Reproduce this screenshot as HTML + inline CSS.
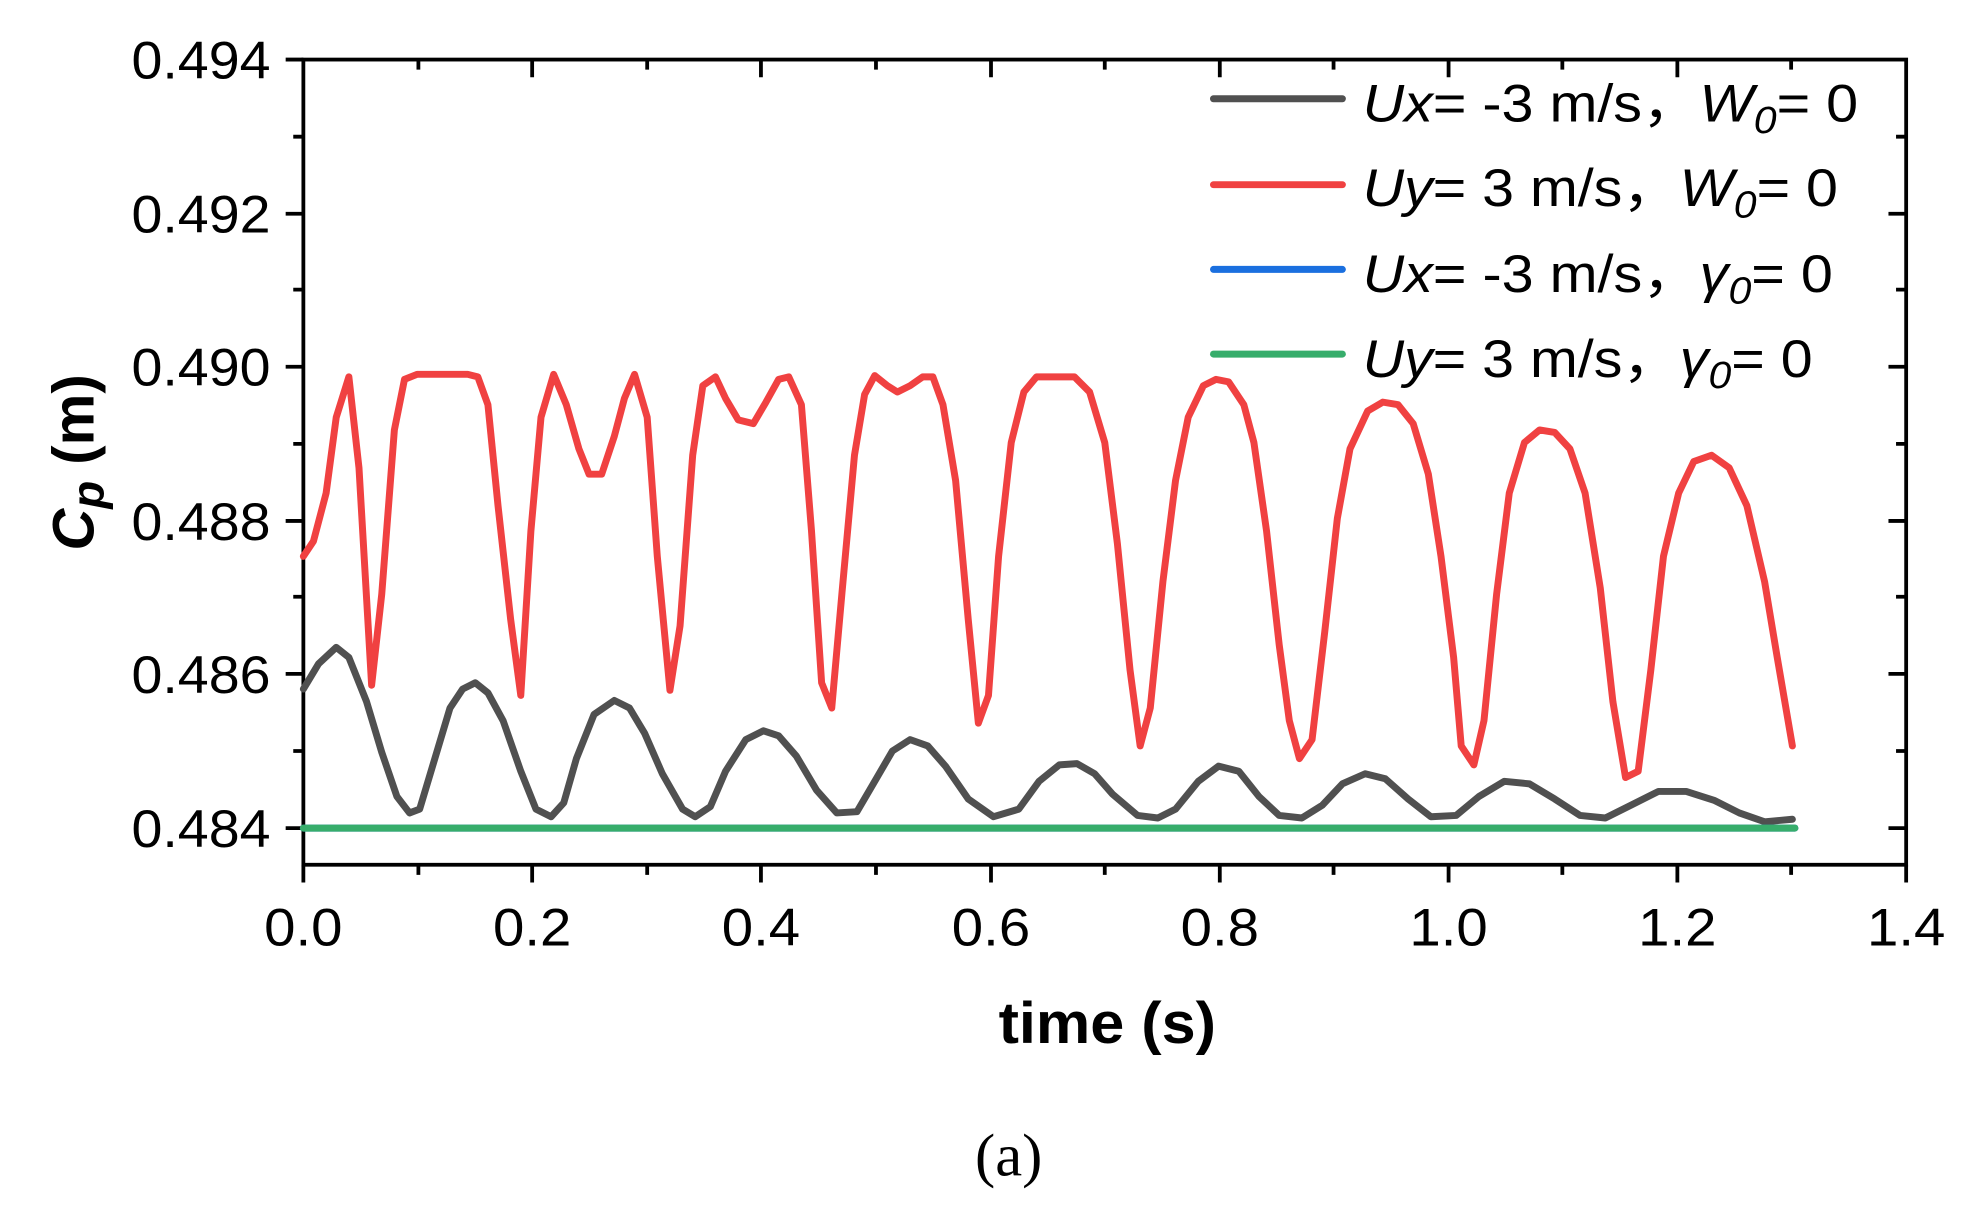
<!DOCTYPE html>
<html><head><meta charset="utf-8"><style>html,body{margin:0;padding:0;background:#fff}svg{display:block}</style></head>
<body>
<svg width="1982" height="1210" viewBox="0 0 1568 957" xmlns="http://www.w3.org/2000/svg" font-family="Liberation Sans, Arial, sans-serif">
<rect width="1568" height="957" fill="#fff"/>
<g stroke="#000" stroke-width="3" fill="none">
<rect x="240" y="47" width="1268" height="637"/>
<path d="M240 684v14M421 684v14M602 684v14M784 684v14M965 684v14M1146 684v14M1327 684v14M1508 684v14"/>
<path d="M331 684v8M512 684v8M693 684v8M874 684v8M1055 684v8M1236 684v8M1417 684v8"/>
<path d="M421 47v14M602 47v14M784 47v14M965 47v14M1146 47v14M1327 47v14"/>
<path d="M331 47v8M512 47v8M693 47v8M874 47v8M1055 47v8M1236 47v8M1417 47v8"/>
<path d="M240 47h-14M240 169h-14M240 290h-14M240 412h-14M240 533h-14M240 655h-14"/>
<path d="M240 108h-8M240 229h-8M240 351h-8M240 472h-8M240 594h-8"/>
<path d="M1508 169h-14M1508 290h-14M1508 412h-14M1508 533h-14M1508 655h-14"/>
<path d="M1508 108h-8M1508 229h-8M1508 351h-8M1508 472h-8M1508 594h-8"/>
</g>
<g font-size="42" fill="#000" text-anchor="end">
<text x="214" y="62" textLength="110" lengthAdjust="spacingAndGlyphs">0.494</text>
<text x="214" y="184" textLength="110" lengthAdjust="spacingAndGlyphs">0.492</text>
<text x="214" y="305" textLength="110" lengthAdjust="spacingAndGlyphs">0.490</text>
<text x="214" y="427" textLength="110" lengthAdjust="spacingAndGlyphs">0.488</text>
<text x="214" y="548" textLength="110" lengthAdjust="spacingAndGlyphs">0.486</text>
<text x="214" y="670" textLength="110" lengthAdjust="spacingAndGlyphs">0.484</text>
</g>
<g font-size="42" fill="#000">
<text x="209" y="748" textLength="62" lengthAdjust="spacingAndGlyphs">0.0</text>
<text x="390" y="748" textLength="62" lengthAdjust="spacingAndGlyphs">0.2</text>
<text x="571" y="748" textLength="62" lengthAdjust="spacingAndGlyphs">0.4</text>
<text x="753" y="748" textLength="62" lengthAdjust="spacingAndGlyphs">0.6</text>
<text x="934" y="748" textLength="62" lengthAdjust="spacingAndGlyphs">0.8</text>
<text x="1115" y="748" textLength="62" lengthAdjust="spacingAndGlyphs">1.0</text>
<text x="1296" y="748" textLength="62" lengthAdjust="spacingAndGlyphs">1.2</text>
<text x="1477" y="748" textLength="62" lengthAdjust="spacingAndGlyphs">1.4</text>
</g>
<text x="790" y="825" font-size="46" font-weight="bold" textLength="172" lengthAdjust="spacingAndGlyphs">time (s)</text>
<text x="798" y="930" font-size="48" font-family="Liberation Serif, serif" text-anchor="middle">(a)</text>
<text transform="translate(74,296) rotate(-90)" font-size="46" font-weight="bold" text-anchor="end"><tspan font-style="italic">C</tspan><tspan font-style="italic" font-size="36" dy="8">p</tspan><tspan dy="-8"> (m)</tspan></text>
<g fill="none" stroke-width="5.5" stroke-linejoin="round" stroke-linecap="round">
<polyline stroke="#f04141" points="240,440 248,428 258,390 266,330 276,298 284,370 294,542 302,470 312,340 320,300 330,296 370,296 378,298 386,320 394,400 404,490 412,550 420,420 428,330 438,296 448,320 458,355 466,375 476,375 486,345 494,315 502,296 512,330 520,440 530,546 538,495 548,360 556,305 566,298 574,315 584,332 596,335 606,318 616,300 624,298 634,320 642,420 650,540 658,560 666,470 676,360 684,312 692,297 702,305 710,310 720,305 730,298 738,298 746,320 756,380 766,490 774,572 782,550 790,440 800,350 810,310 820,298 850,298 862,310 874,350 884,430 894,530 902,590 910,560 920,460 930,380 940,330 952,305 962,300 972,302 984,320 992,350 1002,420 1012,510 1020,570 1028,600 1038,585 1048,500 1058,410 1068,355 1082,325 1094,318 1106,320 1118,335 1130,375 1140,440 1150,520 1156,590 1166,605 1174,570 1184,470 1194,390 1206,350 1218,340 1230,342 1242,355 1254,390 1266,465 1276,555 1286,615 1296,610 1306,530 1316,440 1328,390 1340,365 1354,360 1368,370 1382,400 1396,460 1406,520 1418,590"/>
<polyline stroke="#505050" points="240,545 252,525 266,512 276,520 290,555 302,595 314,630 324,643 332,640 344,600 356,560 366,545 376,540 386,548 398,570 412,610 424,640 436,646 446,635 456,600 470,565 486,554 498,560 510,580 524,612 540,640 550,646 562,638 574,610 590,585 604,578 616,582 630,598 646,625 662,643 678,642 692,618 706,594 720,585 734,590 748,606 766,632 786,646 806,640 822,618 838,605 852,604 866,612 880,628 900,645 916,647 930,640 948,618 964,606 980,610 996,630 1012,645 1030,647 1046,637 1062,620 1080,612 1096,616 1114,632 1132,646 1152,645 1170,630 1190,618 1210,620 1230,632 1250,645 1270,647 1290,637 1312,626 1334,626 1356,633 1376,643 1396,650 1418,648"/>
<line x1="240" y1="655" x2="1420" y2="655" stroke="#1a6fdf"/>
<line x1="240" y1="655" x2="1420" y2="655" stroke="#37ad6b"/>
<line x1="960" y1="78" x2="1062" y2="78" stroke="#505050"/>
<line x1="960" y1="146" x2="1062" y2="146" stroke="#f04141"/>
<line x1="960" y1="213" x2="1062" y2="213" stroke="#1a6fdf"/>
<line x1="960" y1="280" x2="1062" y2="280" stroke="#37ad6b"/>
</g>
<g font-size="42" fill="#000">
<text x="1078" y="96" textLength="392" lengthAdjust="spacingAndGlyphs"><tspan font-style="italic">Ux</tspan>= -3 m/s，<tspan font-style="italic">W</tspan><tspan font-style="italic" font-size="30" dy="9">0</tspan><tspan dy="-9">= 0</tspan></text>
<text x="1078" y="163" textLength="376" lengthAdjust="spacingAndGlyphs"><tspan font-style="italic">Uy</tspan>= 3 m/s，<tspan font-style="italic">W</tspan><tspan font-style="italic" font-size="30" dy="9">0</tspan><tspan dy="-9">= 0</tspan></text>
<text x="1078" y="231" textLength="372" lengthAdjust="spacingAndGlyphs"><tspan font-style="italic">Ux</tspan>= -3 m/s，<tspan font-style="italic">γ</tspan><tspan font-style="italic" font-size="30" dy="9">0</tspan><tspan dy="-9">= 0</tspan></text>
<text x="1078" y="298" textLength="356" lengthAdjust="spacingAndGlyphs"><tspan font-style="italic">Uy</tspan>= 3 m/s，<tspan font-style="italic">γ</tspan><tspan font-style="italic" font-size="30" dy="9">0</tspan><tspan dy="-9">= 0</tspan></text>
</g>
</svg>
</body></html>
